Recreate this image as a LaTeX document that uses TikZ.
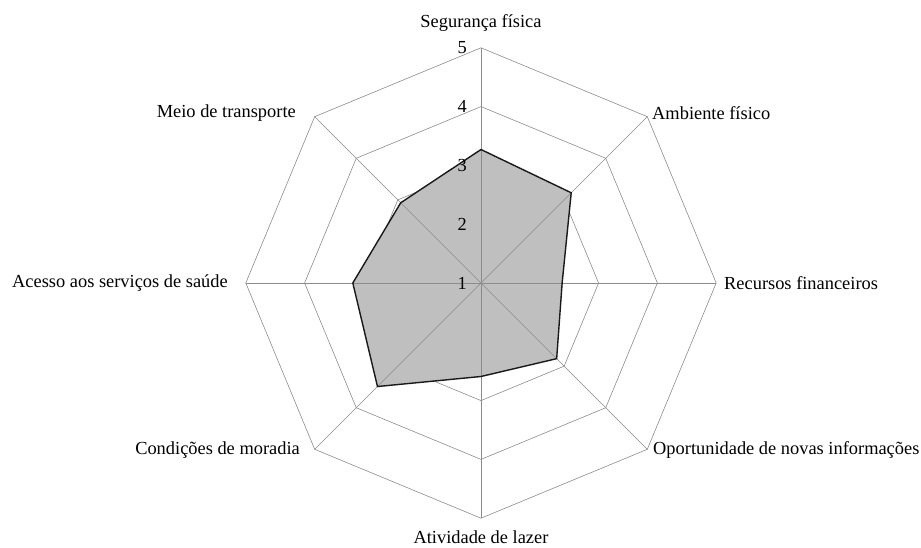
\documentclass[tikz,border=0pt]{standalone}
\usepackage{fontspec}
\setmainfont{Liberation Serif}
\begin{document}
\begin{tikzpicture}[x=1pt,y=1pt,
  gridline/.style={draw=black!45,line width=0.6pt},
  axisline/.style={draw=black!45,line width=0.6pt},
  lbl/.style={font=\fontsize{18.4}{22}\selectfont,inner sep=0pt},
  numlbl/.style={font=\fontsize{18.4}{22}\selectfont,inner sep=0pt,anchor=east}]
\useasboundingbox (-481,-265) rectangle (440,283);
\def\u{58.8}
% grid octagons
\foreach \k in {1,2,3,4}{
  \draw[gridline] (90:\k*\u) -- (45:\k*\u) -- (0:\k*\u) -- (-45:\k*\u) -- (-90:\k*\u) -- (-135:\k*\u) -- (180:\k*\u) -- (135:\k*\u) -- cycle;
}
% data polygon fill
\fill[black!25] (90:2.27*\u) -- (45:2.17*\u) -- (0:1.38*\u) -- (-45:1.82*\u) -- (-90:1.59*\u) -- (-135:2.49*\u) -- (180:2.18*\u) -- (135:1.93*\u) -- cycle;
% axes
\coordinate (c) at (0,0);
\foreach \a/\n in {90/aN,45/aNE,0/aE,-45/aSE,-90/aS,-135/aSW,180/aW,135/aNW}{
  \coordinate (\n) at (\a:4*\u);
  \draw[axisline] (c) -- (\n);
}
% data polygon outline
\draw[draw=black!90,line width=1.4pt,line join=miter] (90:2.27*\u) -- (45:2.17*\u) -- (0:1.38*\u) -- (-45:1.82*\u) -- (-90:1.59*\u) -- (-135:2.49*\u) -- (180:2.18*\u) -- (135:1.93*\u) -- cycle;
% level numbers
\node[numlbl] (n1) at (-14,0) {1};
\node[numlbl] (n2) at (-14,1*\u) {2};
\node[numlbl] (n3) at (-14,2*\u) {3};
\node[numlbl] (n4) at (-14,3*\u) {4};
\node[numlbl] (n5) at (-14,4*\u) {5};
% axis labels
\node[lbl,anchor=center] (lN) at (0,260) {Segurança física};
\node[lbl,anchor=west] (lNE) at (171,170) {Ambiente físico};
\node[lbl,anchor=west] (lE) at (243,0) {Recursos financeiros};
\node[lbl,anchor=west] (lSE) at (172,-167) {Oportunidade de novas informações};
\node[lbl,anchor=center] (lS) at (0,-254) {Atividade de lazer};
\node[lbl,anchor=east] (lSW) at (-181,-167) {Condições de moradia};
\node[lbl,anchor=east] (lW) at (-253,0) {Acesso aos serviços de saúde};
\node[lbl,anchor=east] (lNW) at (-185,170) {Meio de transporte};
\end{tikzpicture}
\end{document}
